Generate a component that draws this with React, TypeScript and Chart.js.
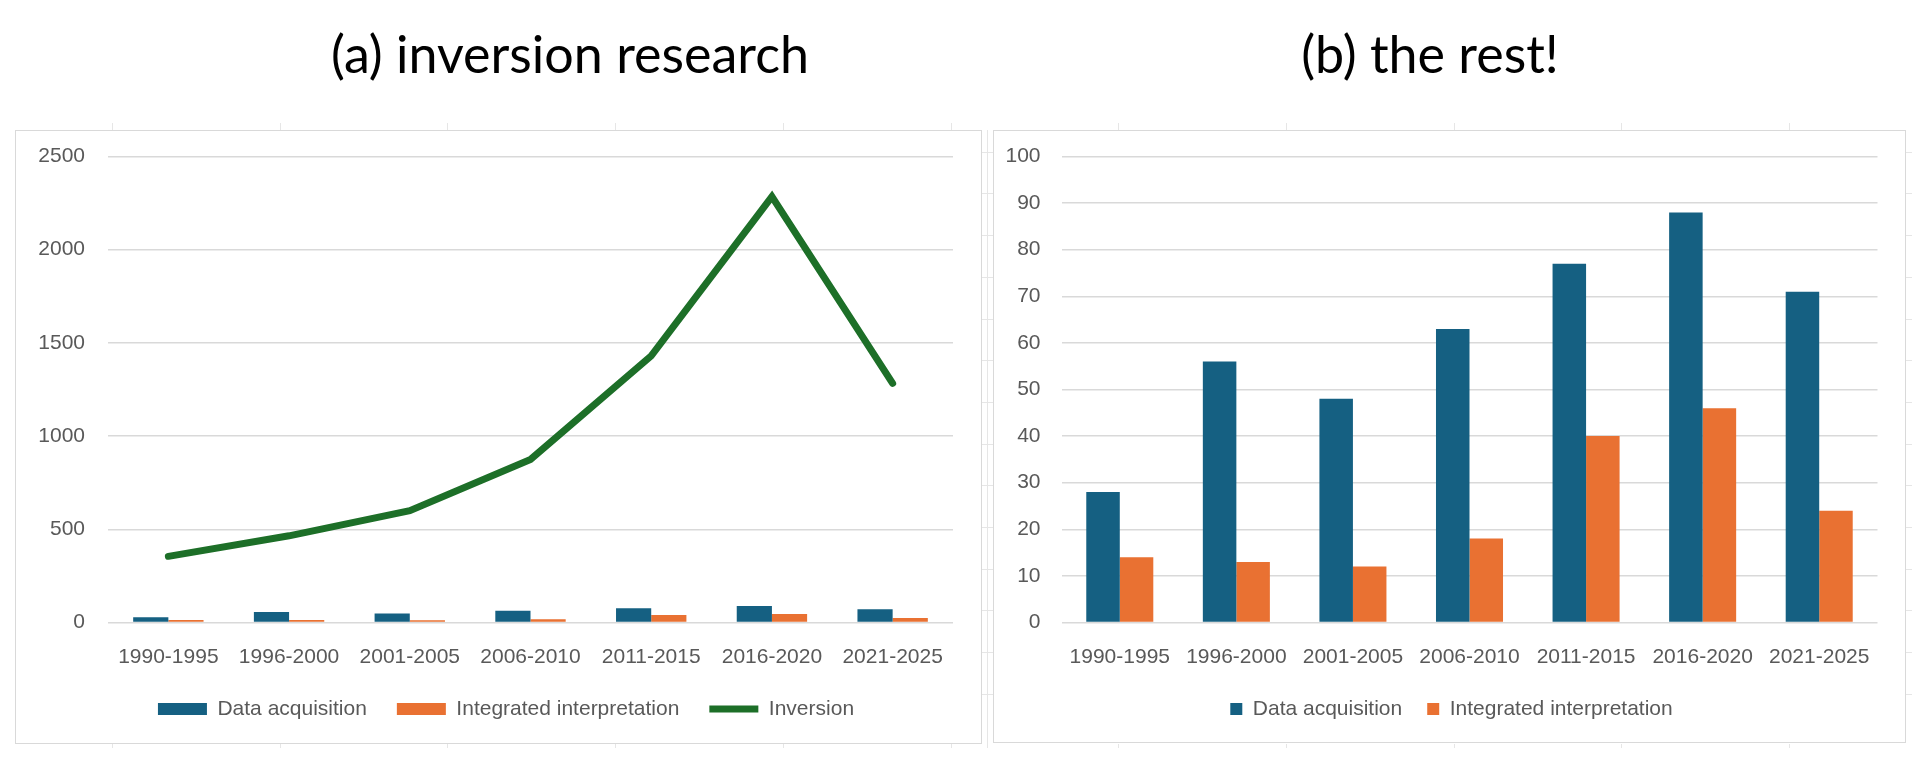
import { useEffect, useRef } from "react";
import { Chart, registerables } from "chart.js";
Chart.register(...registerables);

const periods = ["1990-1995", "1996-2000", "2001-2005", "2006-2010", "2011-2015", "2016-2020", "2021-2025"];
const dataAcquisition = [28, 56, 48, 63, 77, 88, 71];
const integratedInterpretation = [14, 13, 12, 18, 40, 46, 24];
const inversion = [355, 465, 600, 875, 1430, 2285, 1283];

const BLUE = "#156082";
const ORANGE = "#E97132";
const GREEN = "#1d6f28";
const GRID = "#d9d9d9";
const TICK = "#595959";
const CELL = "#e6e6e6";
const FONT = "'Liberation Sans', Arial, sans-serif";
const SIZE = 21;

const plainTick = (v: any) => String(v);
const byIndex = (a: any, b: any) => a.datasetIndex - b.datasetIndex;

// fixed axis sizes; labels are allowed to spill outside the axis box
const fixX = (h: number) => (s: any) => {
  s.height = h;
  s._computeLabelArea = () => undefined;
};
const fixY = (w: number) => (s: any) => {
  s.width = w;
  s.paddingTop = 0;
  s.paddingBottom = 0;
  s._computeLabelArea = () => undefined;
};

function InversionChart() {
  const chartRef = useRef<HTMLCanvasElement>(null);
  const chartInstance = useRef<Chart | null>(null);

  useEffect(() => {
    if (!chartRef.current) return;
    if (chartInstance.current) chartInstance.current.destroy();

    chartInstance.current = new Chart(chartRef.current, {
      type: "bar",
      data: {
        labels: periods,
        datasets: [
          {
            label: "Data acquisition",
            data: dataAcquisition,
            backgroundColor: BLUE,
            borderWidth: 0,
            pointStyle: "rect",
            order: 1
          },
          {
            label: "Integrated interpretation",
            data: integratedInterpretation,
            backgroundColor: ORANGE,
            borderWidth: 0,
            pointStyle: "rect",
            order: 1
          },
          {
            type: "line",
            label: "Inversion",
            data: inversion,
            borderColor: GREEN,
            backgroundColor: GREEN,
            borderWidth: 7,
            borderCapStyle: "round",
            pointRadius: 0,
            pointStyle: "line",
            tension: 0,
            order: 0
          }
        ]
      },
      options: {
        responsive: false,
        animation: false,
        datasets: { bar: { categoryPercentage: 0.583, barPercentage: 1 } },
        layout: { padding: { top: 25.5, right: 27, bottom: 12.5, left: 43 } },
        plugins: {
          tooltip: { enabled: false },
          legend: {
            position: "bottom",
            labels: {
              usePointStyle: true,
              pointStyleWidth: 49,
              boxHeight: 12,
              padding: 30,
              sort: byIndex,
              color: TICK,
              font: { family: FONT, size: SIZE }
            }
          }
        },
        scales: {
          x: {
            grid: { display: false },
            border: { display: false },
            ticks: { color: TICK, font: { family: FONT, size: SIZE }, padding: 14, maxRotation: 0, autoSkip: false },
            afterFit: fixX(46)
          },
          y: {
            min: 0,
            max: 2500,
            ticks: { stepSize: 500, color: TICK, font: { family: FONT, size: SIZE }, padding: 23, callback: plainTick },
            grid: { color: GRID, lineWidth: 1.5, drawTicks: false },
            border: { display: false },
            afterFit: fixY(49)
          }
        }
      }
    });

    return () => { chartInstance.current?.destroy(); };
  }, []);

  return (
    <div style={{ position: "absolute", left: 15, top: 130, width: 967, height: 614, border: "1.5px solid " + GRID, boxSizing: "border-box" }}>
      <canvas ref={chartRef} width={964} height={611} style={{ position: "absolute", left: 0, top: 0 }}></canvas>
    </div>
  );
}

function RestChart() {
  const chartRef = useRef<HTMLCanvasElement>(null);
  const chartInstance = useRef<Chart | null>(null);

  useEffect(() => {
    if (!chartRef.current) return;
    if (chartInstance.current) chartInstance.current.destroy();

    chartInstance.current = new Chart(chartRef.current, {
      type: "bar",
      data: {
        labels: periods,
        datasets: [
          { label: "Data acquisition", data: dataAcquisition, backgroundColor: BLUE, borderWidth: 0 },
          { label: "Integrated interpretation", data: integratedInterpretation, backgroundColor: ORANGE, borderWidth: 0 }
        ]
      },
      options: {
        responsive: false,
        animation: false,
        datasets: { bar: { categoryPercentage: 0.575, barPercentage: 1 } },
        layout: { padding: { top: 25.5, right: 26.5, bottom: 11.5, left: 31.5 } },
        plugins: {
          tooltip: { enabled: false },
          legend: {
            position: "bottom",
            labels: {
              boxWidth: 12,
              boxHeight: 12,
              padding: 25,
              color: TICK,
              font: { family: FONT, size: SIZE }
            }
          }
        },
        scales: {
          x: {
            grid: { display: false },
            border: { display: false },
            ticks: { color: TICK, font: { family: FONT, size: SIZE }, padding: 14, maxRotation: 0, autoSkip: false },
            afterFit: fixX(51)
          },
          y: {
            min: 0,
            max: 100,
            ticks: { stepSize: 10, color: TICK, font: { family: FONT, size: SIZE }, padding: 21, callback: plainTick },
            grid: { color: GRID, lineWidth: 1.5, drawTicks: false },
            border: { display: false },
            afterFit: fixY(36)
          }
        }
      }
    });

    return () => { chartInstance.current?.destroy(); };
  }, []);

  return (
    <div style={{ position: "absolute", left: 993, top: 130, width: 913, height: 613, border: "1.5px solid " + GRID, boxSizing: "border-box" }}>
      <canvas ref={chartRef} width={910} height={610} style={{ position: "absolute", left: 0, top: 0 }}></canvas>
    </div>
  );
}

// faint spreadsheet cell borders showing around the chart frames
function CellMarks() {
  const marks: any[] = [];
  for (let k = 0; k < 11; k++) {
    const x = 112 + k * 167.7;
    marks.push(<div key={"t" + k} style={{ position: "absolute", left: x, top: 123, width: 1, height: 7, background: CELL }} />);
    marks.push(<div key={"b" + k} style={{ position: "absolute", left: x, top: 744, width: 1, height: 4, background: CELL }} />);
  }
  for (let r = 0; r < 14; r++) {
    const y = 151.7 + r * 41.7;
    marks.push(<div key={"m" + r} style={{ position: "absolute", left: 982, top: y, width: 11, height: 1, background: CELL }} />);
    marks.push(<div key={"r" + r} style={{ position: "absolute", left: 1906, top: y, width: 6, height: 1, background: CELL }} />);
  }
  marks.push(<div key="v" style={{ position: "absolute", left: 987, top: 130, width: 1, height: 618, background: CELL }} />);
  return <>{marks}</>;
}

const titleStyle: any = {
  position: "absolute",
  top: 23,
  height: 60,
  lineHeight: "60px",
  fontFamily: "Lato, 'Open Sans', sans-serif",
  fontSize: 52,
  color: "#000",
  whiteSpace: "nowrap",
  transform: "translateX(-50%)"
};

export default function App() {
  return (
    <div style={{ position: "absolute", left: 0, top: 0, width: 1927, height: 762, background: "#fff" }}>
      <div style={{ ...titleStyle, left: 570 }}>(a) inversion research</div>
      <div style={{ ...titleStyle, left: 1430 }}>(b) the rest!</div>
      <CellMarks />
      <InversionChart />
      <RestChart />
    </div>
  );
}
